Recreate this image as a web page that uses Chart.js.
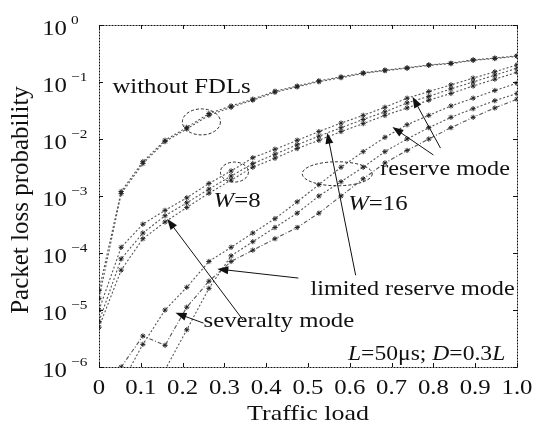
<!doctype html>
<html lang="en">
<head>
    <meta charset="utf-8">
    <title>Packet loss probability vs traffic load</title>
    <style>
        body { margin: 0; background: #fff; }
        .chart-box { position: relative; width: 533px; height: 428px; }
    </style>
</head>
<body>
    <div class="chart-box"><canvas id="lossChart"></canvas></div>
    <script src="https://cdn.jsdelivr.net/npm/chart.js"></script>
    <script>
        // traffic load sample points (x axis)
        const loadX = [0, 0.053, 0.105, 0.158, 0.21, 0.263, 0.316, 0.368, 0.421, 0.474,
                       0.526, 0.579, 0.632, 0.684, 0.737, 0.789, 0.842, 0.895, 0.947, 1.0];

        // without FDLs (two nearly identical runs)
        const noFdlA = [2.2e-5, 1.2e-3, 4.0e-3, 9.5e-3, 1.6e-2, 2.8e-2, 3.8e-2, 5.0e-2, 6.9e-2, 8.5e-2,
                        0.105, 0.123, 0.145, 0.162, 0.178, 0.20, 0.214, 0.245, 0.263, 0.288];
        const noFdlB = [1.6e-5, 1.1e-3, 3.7e-3, 9.0e-3, 1.5e-2, 2.6e-2, 3.6e-2, 4.8e-2, 6.6e-2, 8.2e-2,
                        0.101, 0.119, 0.141, 0.158, 0.174, 0.196, 0.21, 0.24, 0.258, 0.282];

        // W = 8
        const w8Reserve = [1.0e-5, 1.26e-4, 3.2e-4, 5.6e-4, 9.3e-4, 1.66e-3, 2.75e-3, 4.7e-3, 6.6e-3, 9.5e-3,
                           1.35e-2, 1.9e-2, 2.6e-2, 3.6e-2, 5.2e-2, 6.8e-2, 8.9e-2, 0.117, 0.151, 0.20];
        const w8Limited = [6.3e-6, 7.9e-5, 2.24e-4, 4.5e-4, 7.6e-4, 1.32e-3, 2.24e-3, 3.7e-3, 5.4e-3, 7.9e-3,
                           1.12e-2, 1.58e-2, 2.2e-2, 3.0e-2, 4.3e-2, 5.6e-2, 7.6e-2, 0.10, 0.132, 0.174];
        const w8Severalty = [5.0e-6, 5.0e-5, 1.78e-4, 3.5e-4, 6.3e-4, 1.12e-3, 1.9e-3, 3.2e-3, 4.6e-3, 6.8e-3,
                             9.5e-3, 1.35e-2, 1.86e-2, 2.6e-2, 3.5e-2, 4.8e-2, 6.3e-2, 8.5e-2, 0.112, 0.148];

        // W = 16
        const w16Reserve = [null, 5.0e-7, 2.5e-6, 1.0e-5, 2.5e-5, 7.1e-5, 1.26e-4, 2.24e-4, 4.0e-4, 7.9e-4,
                            1.58e-3, 3.2e-3, 6.0e-3, 1.07e-2, 1.78e-2, 2.6e-2, 3.8e-2, 5.2e-2, 7.1e-2, 9.5e-2];
        const w16Limited = [null, null, null, 8.9e-7, 4.5e-6, 2.4e-5, 8.9e-5, 1.58e-4, 2.8e-4, 5.0e-4,
                            1.0e-3, 1.78e-3, 3.2e-3, 6.0e-3, 1.0e-2, 1.58e-2, 2.4e-2, 3.4e-2, 4.7e-2, 6.3e-2];
        const w16Severalty = [null, 1.0e-6, 3.5e-6, 2.4e-6, 1.12e-5, 3.2e-5, 7.1e-5, 1.12e-4, 1.78e-4, 2.8e-4,
                              5.0e-4, 1.0e-3, 2.0e-3, 3.8e-3, 6.3e-3, 1.0e-2, 1.58e-2, 2.4e-2, 3.5e-2, 5.0e-2];

        const xTicks = [0, 0.1, 0.2, 0.3, 0.4, 0.5, 0.6, 0.7, 0.8, 0.9, 1.0];
        const xTickLabels = ['0', '0.1', '0.2', '0.3', '0.4', '0.5', '0.6', '0.7', '0.8', '0.9', '1.0'];
        const yExponents = [0, -1, -2, -3, -4, -5, -6];

        const serif = '"Liberation Serif", "DejaVu Serif", serif';
        const STRETCH = 1.18; // the scanned figure is a bit wider than tall

        function series(values, dash) {
            return {
                data: loadX.map((x, i) => ({ x: x, y: values[i] })),
                borderColor: '#555',
                borderWidth: 1.1,
                borderDash: dash || [2, 2],
                pointStyle: 'star',
                pointRadius: 2.6,
                pointBorderColor: '#222',
                pointBorderWidth: 1,
                pointBackgroundColor: '#222',
                fill: false,
                tension: 0,
                spanGaps: false
            };
        }

        // draws mixed normal / italic text, horizontally stretched
        function mixedText(ctx, parts, x, y, size, align) {
            let total = 0;
            parts.forEach(p => {
                ctx.font = (p.i ? 'italic ' : '') + size + 'px ' + serif;
                p.w = ctx.measureText(p.t).width;
                total += p.w;
            });
            let start = 0;
            if (align === 'right') start = -total;
            if (align === 'center') start = -total / 2;
            ctx.save();
            ctx.translate(x, y);
            ctx.scale(STRETCH, 1);
            ctx.textAlign = 'left';
            let cx = start;
            parts.forEach(p => {
                ctx.font = (p.i ? 'italic ' : '') + size + 'px ' + serif;
                ctx.fillText(p.t, cx, 0);
                cx += p.w;
            });
            ctx.restore();
        }

        function arrow(ctx, x1, y1, x2, y2) {
            const ang = Math.atan2(y2 - y1, x2 - x1);
            const len = 11, half = 4;
            ctx.beginPath();
            ctx.moveTo(x1, y1);
            ctx.lineTo(x2 - Math.cos(ang) * len * 0.8, y2 - Math.sin(ang) * len * 0.8);
            ctx.stroke();
            ctx.beginPath();
            ctx.moveTo(x2, y2);
            ctx.lineTo(x2 - Math.cos(ang) * len - Math.sin(ang) * half, y2 - Math.sin(ang) * len + Math.cos(ang) * half);
            ctx.lineTo(x2 - Math.cos(ang) * len + Math.sin(ang) * half, y2 - Math.sin(ang) * len - Math.cos(ang) * half);
            ctx.closePath();
            ctx.fill();
        }

        const decorPlugin = {
            id: 'decor',
            afterDatasetsDraw(chart) {
                const ctx = chart.ctx;
                const a = chart.chartArea;
                const xs = chart.scales.x, ys = chart.scales.y;
                const P = (lx, lg) => [xs.getPixelForValue(lx), ys.getPixelForValue(Math.pow(10, lg))];

                ctx.save();
                ctx.fillStyle = '#111';
                ctx.strokeStyle = '#111';
                ctx.textBaseline = 'alphabetic';

                // dotted frame
                ctx.lineWidth = 1;
                ctx.setLineDash([2, 1]);
                ctx.strokeRect(a.left + 0.5, a.top + 0.5, a.right - a.left, a.bottom - a.top);
                ctx.setLineDash([]);

                // inward ticks
                ctx.beginPath();
                xTicks.forEach(v => {
                    const px = Math.round(xs.getPixelForValue(v)) + 0.5;
                    ctx.moveTo(px, a.bottom); ctx.lineTo(px, a.bottom - 4);
                    ctx.moveTo(px, a.top); ctx.lineTo(px, a.top + 4);
                });
                yExponents.forEach(e => {
                    const py = Math.round(ys.getPixelForValue(Math.pow(10, e))) + 0.5;
                    ctx.moveTo(a.left, py); ctx.lineTo(a.left + 4, py);
                    ctx.moveTo(a.right, py); ctx.lineTo(a.right - 4, py);
                });
                ctx.stroke();

                // x tick labels
                xTicks.forEach((v, i) => {
                    mixedText(ctx, [{ t: xTickLabels[i] }], xs.getPixelForValue(v), 394, 21, 'center');
                });
                // x title
                mixedText(ctx, [{ t: 'Traffic load' }], (a.left + a.right) / 2, 420, 22, 'center');

                // y tick labels 10^n
                yExponents.forEach(e => {
                    const py = ys.getPixelForValue(Math.pow(10, e));
                    mixedText(ctx, [{ t: '10' }], 67, py + 10, 21, 'right');
                    mixedText(ctx, [{ t: e === 0 ? '0' : '\u2212' + (-e) }], 71, py - 1, 13);
                });

                // y title (rotated)
                ctx.save();
                ctx.translate(21, 200);
                ctx.rotate(-Math.PI / 2);
                ctx.font = '25px ' + serif;
                ctx.textAlign = 'center';
                ctx.textBaseline = 'middle';
                ctx.fillText('Packet loss probability', 0, 0);
                ctx.restore();

                // dashed ellipses
                ctx.lineWidth = 0.9;
                ctx.setLineDash([3, 2]);
                [[0.245, -1.70, 19, 13], [0.324, -2.58, 14, 10], [0.570, -2.61, 35, 12]].forEach(el => {
                    const c = P(el[0], el[1]);
                    ctx.beginPath();
                    ctx.ellipse(c[0], c[1], el[2], el[3], 0, 0, Math.PI * 2);
                    ctx.stroke();
                });
                ctx.setLineDash([]);

                // arrows
                ctx.lineWidth = 1;
                [
                    [0.817, -2.16, 0.750, -1.26],
                    [0.800, -2.28, 0.702, -1.79],
                    [0.614, -4.39, 0.546, -1.89],
                    [0.477, -4.44, 0.283, -4.28],
                    [0.345, -5.18, 0.163, -3.40],
                    [0.250, -5.23, 0.183, -5.05]
                ].forEach(r => {
                    const s = P(r[0], r[1]), t = P(r[2], r[3]);
                    arrow(ctx, s[0], s[1], t[0], t[1]);
                });

                // annotation texts
                let p;
                p = P(0.032, -1.19); mixedText(ctx, [{ t: 'without FDLs' }], p[0], p[1], 21);
                p = P(0.274, -3.19); mixedText(ctx, [{ t: 'W', i: true }, { t: '=8' }], p[0], p[1], 21);
                p = P(0.596, -3.25); mixedText(ctx, [{ t: 'W', i: true }, { t: '=16' }], p[0], p[1], 21);
                p = P(0.673, -2.63); mixedText(ctx, [{ t: 'reserve mode' }], p[0], p[1], 20.5);
                p = P(0.506, -4.74); mixedText(ctx, [{ t: 'limited reserve mode' }], p[0], p[1], 20.5);
                p = P(0.250, -5.30); mixedText(ctx, [{ t: 'severalty mode' }], p[0], p[1], 21);
                p = P(0.972, -5.88);
                mixedText(ctx, [{ t: 'L', i: true }, { t: '=50\u03bcs; ' }, { t: 'D', i: true }, { t: '=0.3' }, { t: 'L', i: true }],
                    p[0], p[1], 20, 'right');

                ctx.restore();
            }
        };

        new Chart(document.getElementById('lossChart'), {
            type: 'line',
            data: {
                datasets: [
                    series(noFdlA),
                    series(noFdlB),
                    series(w8Reserve),
                    series(w8Limited),
                    series(w8Severalty),
                    series(w16Reserve),
                    series(w16Limited),
                    series(w16Severalty, [4, 2, 1, 2])
                ]
            },
            options: {
                responsive: true,
                maintainAspectRatio: false,
                animation: false,
                layout: { padding: { top: 25, right: 16, left: 0, bottom: 0 } },
                plugins: {
                    legend: { display: false },
                    tooltip: { enabled: false }
                },
                scales: {
                    x: {
                        type: 'linear',
                        min: 0,
                        max: 1,
                        grid: { display: false },
                        border: { display: false },
                        ticks: { display: false, stepSize: 0.1 },
                        afterFit: scale => { scale.height = 61; }
                    },
                    y: {
                        type: 'logarithmic',
                        min: 1e-6,
                        max: 1,
                        grid: { display: false },
                        border: { display: false },
                        ticks: { display: false },
                        afterFit: scale => { scale.width = 99; }
                    }
                }
            },
            plugins: [decorPlugin]
        });
    </script>
</body>
</html>
